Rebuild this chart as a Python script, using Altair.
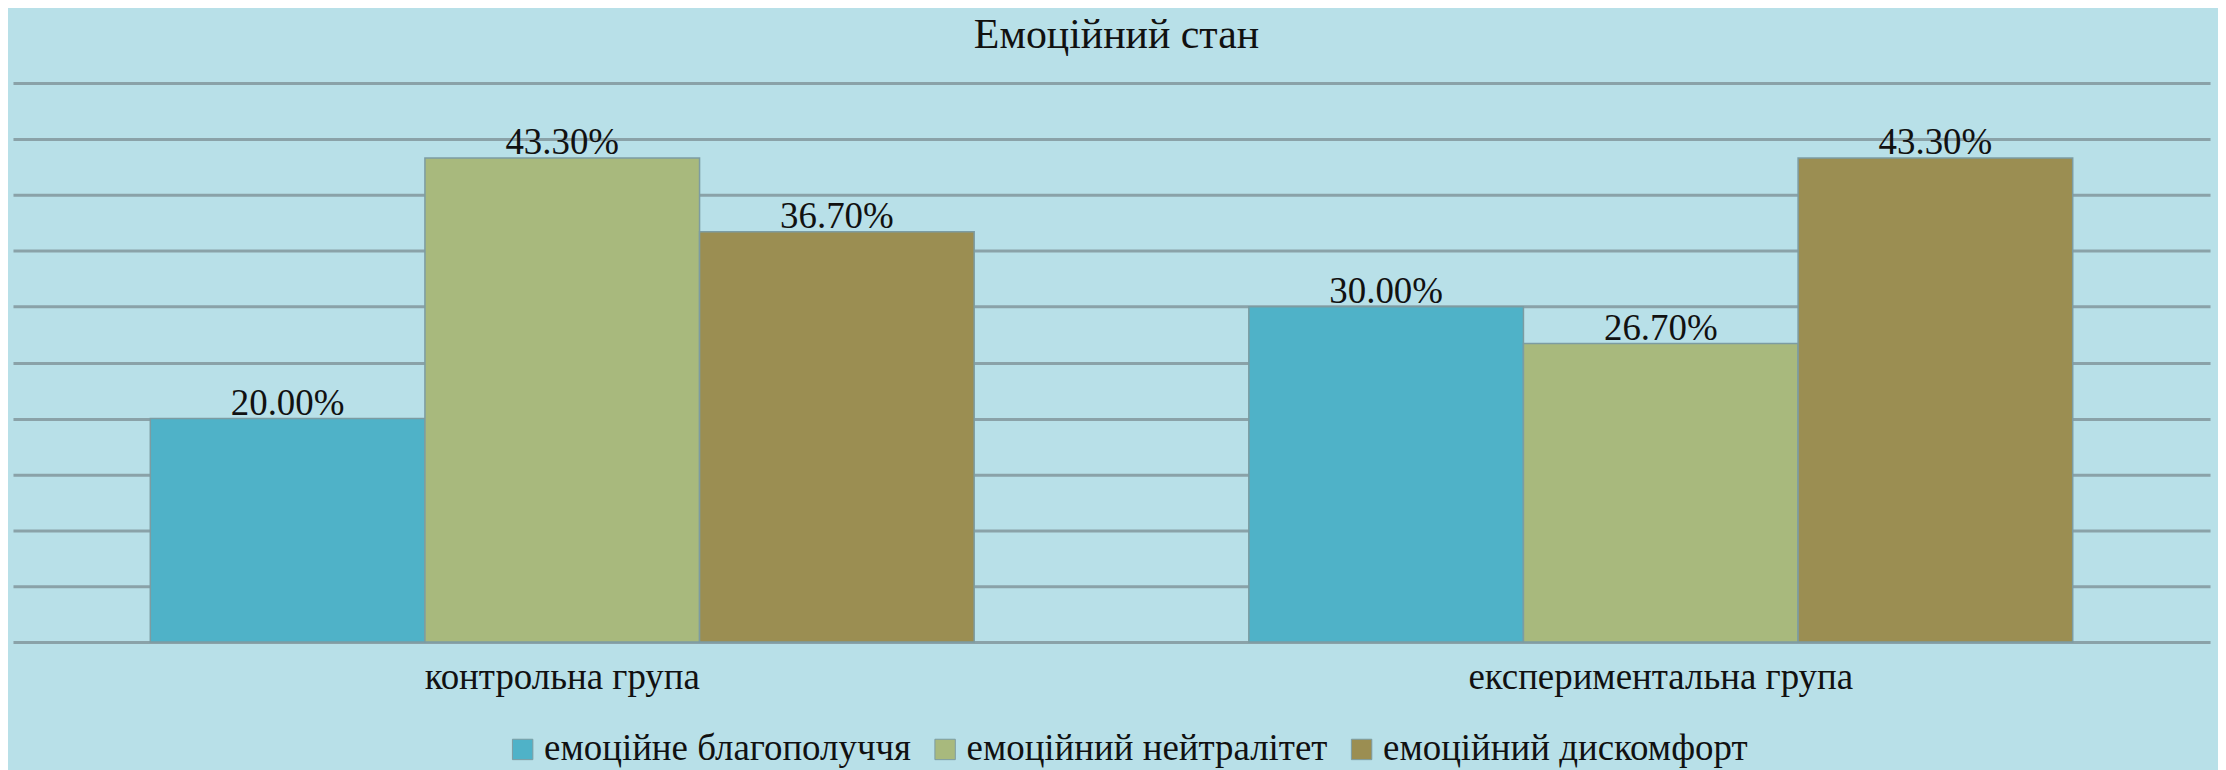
import altair as alt
import pandas as pd

groups = ["контрольна група", "експериментальна група"]
categories = ["емоційне благополуччя", "емоційний нейтралітет", "емоційний дискомфорт"]
control_values = [20.0, 43.3, 36.7]
experimental_values = [30.0, 26.7, 43.3]
colors = ["#4FB2C8", "#A8B97D", "#9B8E52"]

rows = []
for g, vals in zip(groups, [control_values, experimental_values]):
    for c, v in zip(categories, vals):
        rows.append({"group": g, "cat": c, "value": v})
df = pd.DataFrame(rows)

FONT = "Liberation Serif"

x = alt.X("group:N", sort=groups, title=None,
          scale=alt.Scale(paddingInner=0.25, paddingOuter=0.125),
          axis=alt.Axis(labelFont=FONT, labelFontSize=37, labelColor="#111111",
                        ticks=False, domain=False, labelPadding=47, labelLimit=0,
                        labelBaseline="alphabetic", labelAngle=0))
xo = alt.XOffset("cat:N", sort=categories, scale=alt.Scale(paddingInner=0, paddingOuter=0))
y = alt.Y("value:Q", title=None,
          scale=alt.Scale(domain=[0, 50], nice=False),
          axis=alt.Axis(values=list(range(0, 55, 5)), labels=False, ticks=False, domain=False,
                        grid=True, gridColor="#8AA2A8", gridWidth=3, gridOpacity=1))

bars = alt.Chart(df).mark_bar(stroke="#7C9CA2", strokeWidth=1.5).encode(
    x=x, xOffset=xo, y=y,
    color=alt.Color("cat:N", sort=categories,
                    scale=alt.Scale(domain=categories, range=colors),
                    legend=alt.Legend(title=None, orient="none", direction="horizontal",
                                      legendX=493, legendY=650,
                                      symbolType="square", symbolSize=420,
                                      symbolStrokeColor="#7C9CA2", symbolStrokeWidth=1,
                                      labelFont=FONT, labelFontSize=37, labelColor="#111111",
                                      labelOffset=3, columnPadding=15, labelLimit=0)),
)

labels = alt.Chart(df).transform_calculate(
    lab="format(datum.value, '.2f') + '%'"
).mark_text(font=FONT, fontSize=37, color="#111111", baseline="alphabetic", dy=-4).encode(
    x=alt.X("group:N", sort=groups), xOffset=xo, y=alt.Y("value:Q"), text="lab:N"
)

chart = alt.layer(bars, labels).properties(
    width=2205, height=561,
    background="#B8E0E8",
    padding={"left": 5, "top": 74, "right": 8, "bottom": 127},
    autosize=alt.AutoSizeParams(type="none"),
    title=alt.TitleParams("Емоційний стан", font=FONT, fontSize=42, fontWeight="normal",
                          color="#111111", anchor="middle", offset=26, dx=5),
).configure_view(stroke=None).configure_legend(
    labelFont=FONT, labelFontSize=37, labelColor="#111111", labelLimit=0
).configure_axis(labelFont=FONT)

chart.save("out.html", embed_options={"renderer": "svg", "actions": False})
